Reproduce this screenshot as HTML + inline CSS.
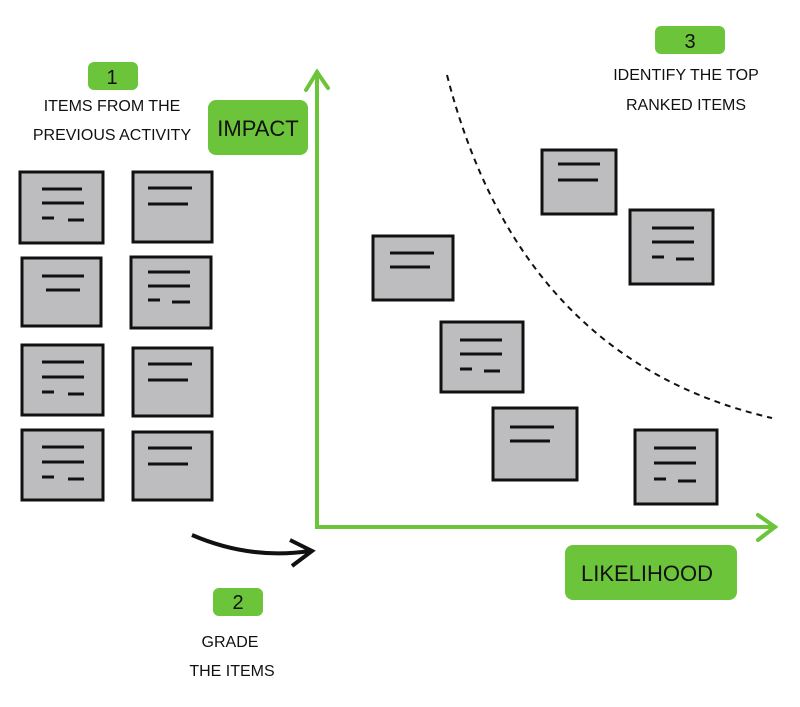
<!DOCTYPE html>
<html><head><style>
body{margin:0;background:#fff;}
svg text{font-family:"Liberation Sans",sans-serif;fill:#111;}
</style></head><body>
<svg width="800" height="702" viewBox="0 0 800 702" xmlns="http://www.w3.org/2000/svg">
<g fill="#6cc43a">
<rect x="88" y="62" width="50" height="28" rx="6"/>
<rect x="208" y="100" width="100" height="55" rx="8"/>
<rect x="213" y="588" width="50" height="28" rx="6"/>
<rect x="565" y="545" width="172" height="55" rx="8"/>
<rect x="655" y="26" width="70" height="28" rx="6"/>
</g>
<g font-size="16" text-anchor="middle">
<text x="112" y="84" font-size="20">1</text>
<text x="112" y="111">ITEMS FROM THE</text>
<text x="112" y="140">PREVIOUS ACTIVITY</text>
<text x="258" y="136" font-size="22">IMPACT</text>
<text x="238" y="609" font-size="20">2</text>
<text x="230" y="647">GRADE</text>
<text x="232" y="676">THE ITEMS</text>
<text x="647" y="581" font-size="22">LIKELIHOOD</text>
<text x="690" y="48" font-size="20">3</text>
<text x="686" y="80">IDENTIFY THE TOP</text>
<text x="686" y="110">RANKED ITEMS</text>
</g>
<g stroke="#6cc43a" stroke-width="4" fill="none" stroke-linecap="round">
<path d="M317 72 L317 527 L775 527"/>
<path d="M306 90 L317 72 L328 88"/>
<path d="M758 515 L775 527 L758 540"/>
</g>
<path d="M447 75 Q520 360 772 418" stroke="#111" stroke-width="2" stroke-dasharray="6 5" fill="none"/>
<path d="M192 535 Q250 560 310 551" stroke="#111" stroke-width="4" fill="none"/>
<path d="M290 540 L312 551 L292 566" stroke="#111" stroke-width="4" fill="none"/>
<g fill="#bdbdbf" stroke="#111" stroke-width="3">
<rect x="20" y="172" width="83" height="71"/>
<rect x="133" y="172" width="79" height="70"/>
<rect x="22" y="258" width="79" height="68"/>
<rect x="131" y="257" width="80" height="71"/>
<rect x="22" y="345" width="81" height="70"/>
<rect x="133" y="348" width="79" height="68"/>
<rect x="22" y="430" width="81" height="70"/>
<rect x="133" y="432" width="79" height="68"/>
<rect x="373" y="236" width="80" height="64"/>
<rect x="542" y="150" width="74" height="64"/>
<rect x="630" y="210" width="83" height="74"/>
<rect x="441" y="322" width="82" height="70"/>
<rect x="493" y="408" width="84" height="72"/>
<rect x="635" y="430" width="82" height="74"/>
</g>
<g stroke="#111" stroke-width="3" fill="none">
<path d="M42 189h40M42 203h42M42 218h12M68 220h16"/>
<path d="M148 188h44M148 204h40"/>
<path d="M42 276h42M46 290h34"/>
<path d="M148 272h42M148 286h42M148 300h12M172 302h18"/>
<path d="M42 362h42M42 377h42M42 392h12M68 394h16"/>
<path d="M148 364h44M148 380h40"/>
<path d="M42 447h42M42 462h42M42 477h12M68 479h16"/>
<path d="M148 448h44M148 464h40"/>
<path d="M390 253h44M390 267h40"/>
<path d="M558 164h42M558 180h40"/>
<path d="M652 228h42M652 242h42M652 257h12M676 259h18"/>
<path d="M460 340h42M460 354h42M460 369h12M484 371h16"/>
<path d="M510 427h44M510 441h40"/>
<path d="M654 448h42M654 463h42M654 479h12M678 481h18"/>
</g>
</svg>
</body></html>
